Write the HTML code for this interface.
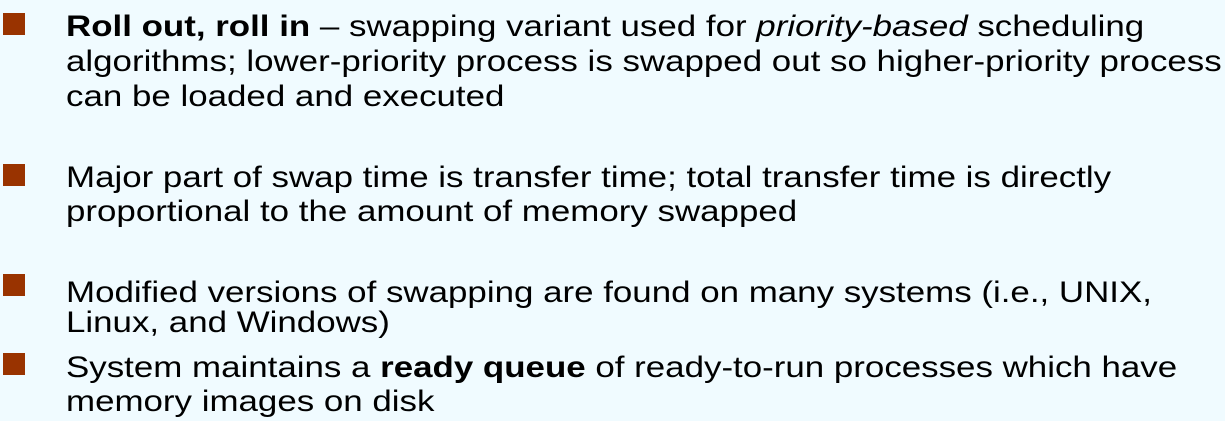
<!DOCTYPE html>
<html><head><meta charset="utf-8"><style>
html,body{margin:0;padding:0;}
body{width:1225px;height:421px;background:#f0fbff;position:relative;overflow:hidden;font-family:"Liberation Sans",Arial,sans-serif;color:#000;}
.b{position:absolute;left:3px;width:22px;height:22px;background:#993300;}
.l{position:absolute;left:66px;font-size:30px;line-height:30px;white-space:nowrap;transform:scaleX(1.163);transform-origin:0 0;}
</style></head><body>
<div class="b" style="top:13px"></div>
<div class="l" style="top:12px"><b>Roll out, roll in</b> – swapping variant used for <i>priority-based</i> scheduling</div>
<div class="l" style="top:47px">algorithms; lower-priority process is swapped out so higher-priority process</div>
<div class="l" style="top:82px">can be loaded and executed</div>
<div class="b" style="top:164px"></div>
<div class="l" style="top:163px">Major part of swap time is transfer time; total transfer time is directly</div>
<div class="l" style="top:197px">proportional to the amount of memory swapped</div>
<div class="b" style="top:274px"></div>
<div class="l" style="top:278px">Modified versions of swapping are found on many systems (i.e., UNIX,</div>
<div class="l" style="top:308px">Linux, and Windows)</div>
<div class="b" style="top:353px"></div>
<div class="l" style="top:353px">System maintains a <b>ready queue</b> of ready-to-run processes which have</div>
<div class="l" style="top:387px">memory images on disk</div>
</body></html>
